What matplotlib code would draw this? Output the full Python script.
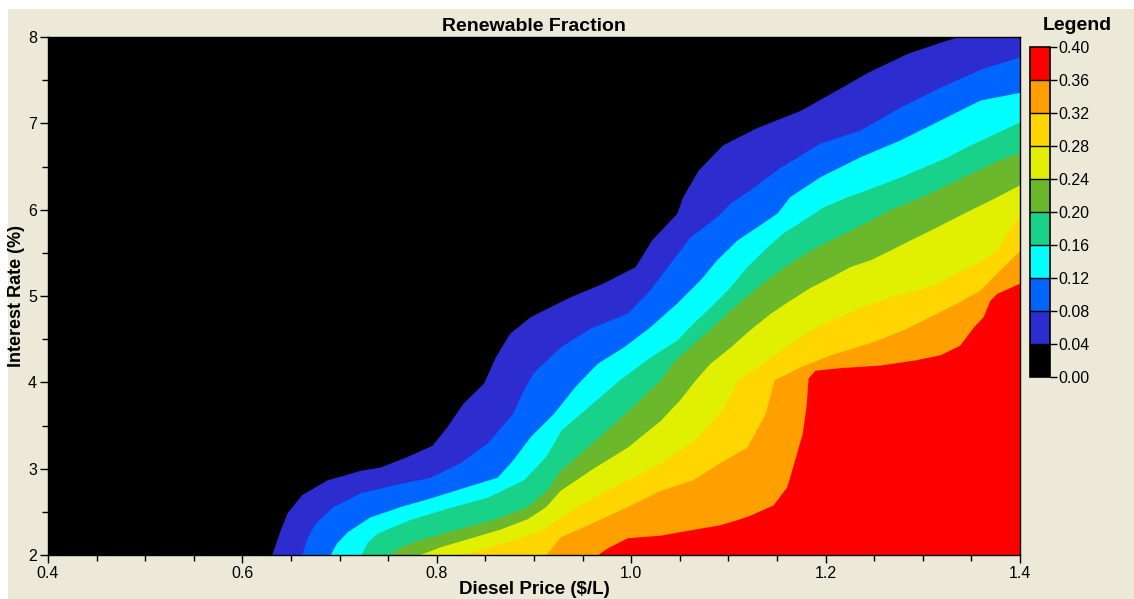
import numpy as np
import matplotlib
matplotlib.use("Agg")
import matplotlib.pyplot as plt
from matplotlib.colors import ListedColormap, BoundaryNorm
from matplotlib.cm import ScalarMappable
from matplotlib.patches import Rectangle
from matplotlib.ticker import MultipleLocator

plt.rcParams['font.family'] = ['Liberation Sans', 'DejaVu Sans']

# renewable fraction classes (legend)
levels = [0.00, 0.04, 0.08, 0.12, 0.16, 0.20, 0.24, 0.28, 0.32, 0.36, 0.40]
colors = ['#000000', '#2D2DCF', '#0064FF', '#00FFFF', '#19D28A',
          '#6BB82D', '#E1F000', '#FFD600', '#FFA000', '#FF0000']

# class boundaries: (interest rate %, diesel price $/L) where RF reaches the level
rf04 = [(2.00, 0.630), (2.29, 0.639), (2.49, 0.646), (2.70, 0.661), (2.87, 0.687),
        (2.98, 0.721), (3.02, 0.742), (3.14, 0.769), (3.27, 0.795), (3.48, 0.810),
        (3.76, 0.827), (3.99, 0.848), (4.29, 0.860), (4.57, 0.875), (4.76, 0.896),
        (4.99, 0.937), (5.15, 0.971), (5.34, 1.004), (5.65, 1.021), (5.96, 1.047),
        (6.15, 1.053), (6.46, 1.069), (6.75, 1.094), (6.95, 1.129), (7.15, 1.174),
        (7.39, 1.212), (7.59, 1.243), (7.81, 1.284), (7.94, 1.318), (8.00, 1.335)]
rf08 = [(2.00, 0.661), (2.21, 0.667), (2.37, 0.675), (2.56, 0.693), (2.72, 0.721),
        (2.81, 0.755), (2.90, 0.793), (3.07, 0.824), (3.30, 0.852), (3.64, 0.878),
        (3.91, 0.889), (4.11, 0.899), (4.41, 0.927), (4.63, 0.958), (4.80, 0.996),
        (5.07, 1.019), (5.38, 1.040), (5.68, 1.060), (5.92, 1.088), (6.08, 1.102),
        (6.23, 1.122), (6.49, 1.153), (6.77, 1.194), (6.92, 1.235), (7.19, 1.277),
        (7.42, 1.318), (7.64, 1.362), (7.77, 1.400)]
rf12 = [(2.00, 0.690), (2.14, 0.697), (2.27, 0.708), (2.44, 0.731), (2.56, 0.762),
        (2.67, 0.796), (2.78, 0.827), (2.90, 0.862), (3.10, 0.878), (3.37, 0.896),
        (3.64, 0.920), (3.95, 0.942), (4.22, 0.965), (4.41, 0.992), (4.64, 1.019),
        (4.92, 1.047), (5.19, 1.071), (5.42, 1.088), (5.65, 1.109), (5.80, 1.129),
        (5.96, 1.150), (6.15, 1.163), (6.38, 1.194), (6.61, 1.235), (6.81, 1.277),
        (7.04, 1.318), (7.27, 1.359), (7.36, 1.400)]
rf16 = [(2.00, 0.722), (2.14, 0.728), (2.25, 0.738), (2.41, 0.772), (2.54, 0.810),
        (2.67, 0.852), (2.87, 0.889), (3.14, 0.912), (3.45, 0.928), (3.74, 0.958),
        (4.03, 0.988), (4.29, 1.019), (4.49, 1.047), (4.69, 1.064), (4.87, 1.081),
        (5.07, 1.099), (5.34, 1.119), (5.57, 1.140), (5.73, 1.156), (5.88, 1.177),
        (6.03, 1.197), (6.15, 1.222), (6.26, 1.249), (6.38, 1.277), (6.49, 1.300),
        (6.61, 1.325), (6.73, 1.345), (6.84, 1.366), (7.02, 1.400)]
rf20 = [(2.00, 0.751), (2.09, 0.762), (2.17, 0.780), (2.29, 0.817), (2.41, 0.858),
        (2.56, 0.893), (2.75, 0.913), (2.98, 0.927), (3.20, 0.950), (3.45, 0.975),
        (3.74, 1.003), (4.03, 1.030), (4.22, 1.042), (4.41, 1.060), (4.61, 1.081),
        (4.84, 1.102), (5.03, 1.122), (5.22, 1.143), (5.38, 1.163), (5.53, 1.184),
        (5.65, 1.205), (5.76, 1.225), (5.88, 1.246), (6.00, 1.266), (6.19, 1.307),
        (6.42, 1.349), (6.58, 1.379), (6.66, 1.400)]
rf24 = [(2.00, 0.781), (2.10, 0.805), (2.20, 0.835), (2.30, 0.865), (2.42, 0.893),
        (2.56, 0.912), (2.75, 0.927), (3.00, 0.960), (3.25, 0.996), (3.56, 1.030),
        (3.80, 1.050), (4.03, 1.066), (4.22, 1.081), (4.41, 1.102), (4.61, 1.122),
        (4.80, 1.143), (4.95, 1.163), (5.10, 1.184), (5.22, 1.205), (5.34, 1.225),
        (5.42, 1.246), (5.53, 1.266), (5.65, 1.287), (5.76, 1.307), (5.88, 1.328),
        (6.00, 1.349), (6.11, 1.369), (6.29, 1.400)]
rf28 = [(2.00, 0.821), (2.08, 0.850), (2.18, 0.880), (2.30, 0.910), (2.44, 0.927),
        (2.67, 0.961), (2.87, 0.996), (3.07, 1.030), (3.33, 1.064), (3.64, 1.091),
        (4.03, 1.110), (4.18, 1.129), (4.37, 1.153), (4.57, 1.179), (4.72, 1.205),
        (4.87, 1.235), (4.99, 1.266), (5.07, 1.294), (5.15, 1.315), (5.27, 1.335),
        (5.38, 1.356), (5.53, 1.376), (5.80, 1.390), (5.92, 1.400)]
rf32 = [(2.00, 0.912), (2.21, 0.927), (2.40, 0.965), (2.56, 0.996), (2.75, 1.030),
        (2.87, 1.063), (3.07, 1.091), (3.25, 1.119), (3.64, 1.138), (4.03, 1.147),
        (4.18, 1.174), (4.32, 1.205), (4.46, 1.246), (4.61, 1.280), (4.76, 1.307),
        (4.92, 1.335), (5.07, 1.359), (5.30, 1.379), (5.53, 1.400)]
rf36 = [(2.00, 0.965), (2.08, 0.975), (2.20, 0.996), (2.23, 1.030), (2.29, 1.060),
        (2.35, 1.091), (2.41, 1.109), (2.46, 1.122), (2.58, 1.146), (2.79, 1.160),
        (2.98, 1.165), (3.41, 1.176), (3.74, 1.180), (4.05, 1.182), (4.14, 1.189),
        (4.17, 1.215), (4.20, 1.256), (4.26, 1.292), (4.32, 1.318), (4.43, 1.338),
        (4.64, 1.352), (4.76, 1.362), (4.95, 1.369), (5.03, 1.376), (5.15, 1.400)]
boundaries = [rf04, rf08, rf12, rf16, rf20, rf24, rf28, rf32, rf36]

W, H = 1134, 599
fig = plt.figure(figsize=(W / 100, H / 100), dpi=100, facecolor='white')
fig.patches.append(Rectangle((8 / W, 0), 1, 1 - 9 / H, transform=fig.transFigure,
                             facecolor='#ECE9D8', edgecolor='none', zorder=-10))

ax = fig.add_axes([48 / W, 1 - 555 / H, 972 / W, 518 / H])
ax.set_facecolor(colors[0])
for pts, col in zip(boundaries, colors[1:]):
    rate = np.array([p[0] for p in pts])
    price = np.array([p[1] for p in pts])
    ax.fill_betweenx(rate, price, 1.5, color=col, lw=0)

ax.set_xlim(0.4, 1.4)
ax.set_ylim(2, 8)
ax.xaxis.set_major_locator(MultipleLocator(0.2))
ax.xaxis.set_minor_locator(MultipleLocator(0.05))
ax.yaxis.set_major_locator(MultipleLocator(1))
ax.yaxis.set_minor_locator(MultipleLocator(0.5))
ax.xaxis.set_major_formatter(plt.FormatStrFormatter('%.1f'))
ax.tick_params(which='major', length=6, width=1, labelsize=11.5, direction='out', pad=2)
ax.tick_params(which='minor', length=4, width=1, direction='out')
ax.tick_params(top=False, right=False)
for s in ax.spines.values():
    s.set_linewidth(1)

ax.set_title('Renewable Fraction', fontsize=14, fontweight='bold', pad=4)
ax.set_xlabel('Diesel Price ($/L)', fontsize=13.5, fontweight='bold', labelpad=0)
ax.set_ylabel('Interest Rate (%)', fontsize=13, fontweight='bold', labelpad=2)

# legend colour bar
cax = fig.add_axes([1030 / W, 1 - 377 / H, 20 / W, 330 / H])
cmap = ListedColormap(colors)
norm = BoundaryNorm(levels, cmap.N)
cb = fig.colorbar(ScalarMappable(norm=norm, cmap=cmap), cax=cax, ticks=levels,
                  drawedges=True, format='%.2f')
cb.outline.set_linewidth(1.2)
cb.dividers.set_linewidth(1)
cax.tick_params(length=5, width=1, labelsize=11.5, pad=1)
fig.text(1077 / W, 1 - 25 / H, 'Legend', fontsize=14, fontweight='bold',
         ha='center', va='center')

fig.savefig('out.png', dpi=100, facecolor=fig.get_facecolor())
